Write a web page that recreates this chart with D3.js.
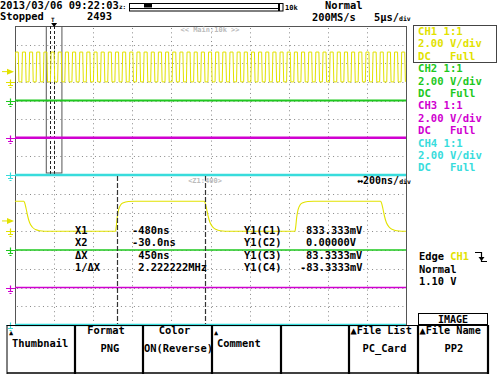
<!DOCTYPE html>
<html lang="en">
<head>
<meta charset="UTF-8">
<title>Scope screen</title>
<style>
  body { margin: 0; background: #fff; }
  svg { display: block; }
  text { font-family: "DejaVu Sans Mono", "Liberation Mono", monospace; font-weight: bold; }
</style>
</head>
<body>
<div id="chart"></div>
<script src="https://cdn.jsdelivr.net/npm/d3@7"></script>
<script>
// ---- values ----
var headerDate = "2013/03/06 09:22:03";
var acqMode = "Normal";
var acqState = "Stopped";
var acqCount = "2493";
var sampleRate = "200MS/s";
var timeDiv = "5\u03bcs/";
var zoomDiv = "200ns/";

var channels = ["CH1", "CH2", "CH3", "CH4"];
var channelColors = ["#e2e200", "#1ec81e", "#d000d0", "#38dcdc"];
var channelProbe = ["1:1", "1:1", "1:1", "1:1"];
var channelVdiv = ["2.00 V/div", "2.00 V/div", "2.00 V/div", "2.00 V/div"];
var channelCoupling = ["DC   Full", "DC   Full", "DC   Full", "DC   Full"];
var voltsPerDiv = 2;
var groundDiv = [1, 0, -2, -4];   // ground position, divisions from centre

// main window (µs): CH1 edges
var mainRange = [-5, 45];
var ch1RiseUs = [-5.04, -4.13, -3.21, -2.30, -1.38, -0.47, 0.45, 1.37, 2.28, 3.20,
  4.11, 5.03, 5.94, 6.86, 7.77, 8.69, 9.60, 10.52, 11.43, 12.35, 13.26, 14.18,
  15.09, 16.01, 16.92, 17.84, 18.75, 19.67, 20.58, 21.50, 22.41, 23.33, 24.24,
  25.16, 26.07, 26.99, 27.90, 28.82, 29.73, 30.65, 31.56, 32.48, 33.39, 34.31,
  35.22, 36.14, 37.05, 37.97, 38.88, 39.80, 40.71, 41.63, 42.54, 43.46, 44.37];
var ch1FallUs = [-4.58, -3.66, -2.75, -1.83, -0.92, 0.00, 0.92, 1.83, 2.75, 3.66,
  4.58, 5.49, 6.41, 7.32, 8.24, 9.15, 10.07, 10.98, 11.90, 12.81, 13.73, 14.64,
  15.56, 16.47, 17.39, 18.30, 19.22, 20.13, 21.05, 21.96, 22.88, 23.79, 24.71,
  25.62, 26.54, 27.45, 28.37, 29.28, 30.20, 31.11, 32.03, 32.94, 33.86, 34.77,
  35.69, 36.60, 37.52, 38.43, 39.35, 40.26, 41.18, 42.09, 43.01, 43.92, 44.84];
var ch1HighV = 3.2;
var ch1LowV = 0;
var flatTraceUs = [-5, 45];

// zoom window (ns): CH1 samples
var zoomRange = [-1000, 1000];
var ch1ZoomT = [-1000, -955, -950, -943, -935, -925, -912, -895, -875, -850,
  -486, -482, -477, -470, -460, -445, -420, -390,
  -32, -27, -20, -12, -2, 12, 30, 50, 75,
  432, 436, 441, 448, 458, 473, 498, 528,
  870, 875, 882, 890, 900, 914, 932, 952, 977, 1000];
var ch1ZoomV = [3.2, 3.2, 3.0, 2.4, 1.6, 0.9, 0.45, 0.18, 0.05, 0,
  0, 0.5, 1.5, 2.3, 2.8, 3.05, 3.17, 3.2,
  3.2, 3.0, 2.4, 1.6, 0.9, 0.45, 0.18, 0.05, 0,
  0, 0.5, 1.5, 2.3, 2.8, 3.05, 3.17, 3.2,
  3.2, 3.0, 2.4, 1.6, 0.9, 0.45, 0.18, 0.05, 0, 0];
var flatTraceNs = [-1000, 1000];

var cursorsNs = [-480, -30];
var trigLevelV = 1.10;
var measureLabels = ["X1", "X2", "\u0394X", "1/\u0394X"];
var measureValues = ["-480ns", "-30.0ns", " 450ns", " 2.222222MHz"];
var yLabels = ["Y1(C1)", "Y1(C2)", "Y1(C3)", "Y1(C4)"];
var yValues = ["833.333mV", "0.00000V", "83.3333mV", "-83.3333mV"];
var trigInfo = ["Normal", "1.10 V"];

var menuTop = ["\u25b2", "Format", "Color", "\u25b2", "", "\u25b2File List", "\u25b2File Name"];
var menuMain = ["Thumbnail", "PNG", "ON(Reverse)", "Comment", "", "PC_Card", "PP2"];

// ---- layout ----
var W = 500, H = 375;
var plotL = 15, plotR = 406;
var winTop = {y0: 26, y1: 175};
var winBot = {y0: 175, y1: 325};

var svg = d3.select("#chart").append("svg")
    .attr("width", W).attr("height", H)
    .style("background", "#fff");

var xMain = d3.scaleLinear().domain(mainRange).range([plotL, plotR]);
var xZoom = d3.scaleLinear().domain(zoomRange).range([plotL, plotR]);
var yTop = d3.scaleLinear().domain([-4, 4]).range([winTop.y1, winTop.y0]);
var yBot = d3.scaleLinear().domain([-4, 4]).range([winBot.y1, winBot.y0]);

function vToDiv(v, ch) { return v / voltsPerDiv + groundDiv[ch]; }

svg.append("clipPath").attr("id", "clipTop").append("rect")
    .attr("x", plotL).attr("y", winTop.y0).attr("width", plotR - plotL).attr("height", winTop.y1 - winTop.y0);
svg.append("clipPath").attr("id", "clipBot").append("rect")
    .attr("x", plotL).attr("y", winBot.y0).attr("width", plotR - plotL).attr("height", winBot.y1 - winBot.y0);

// grid
function drawGrid(win, xs, yS) {
    var g = svg.append("g");
    var step = (xs.domain()[1] - xs.domain()[0]) / 10;
    d3.range(1, 10).forEach(function(i) {
        var x = Math.round(xs(xs.domain()[0] + i * step)) + 0.5;
        g.append("line").attr("x1", x).attr("x2", x).attr("y1", win.y0 + 2).attr("y2", win.y1)
            .attr("stroke", "#888").attr("stroke-dasharray", "1,3.33");
    });
    d3.range(-3, 4).forEach(function(d) {
        var y = Math.round(yS(d)) + 0.5;
        g.append("line").attr("x1", plotL + 2).attr("x2", plotR).attr("y1", y).attr("y2", y)
            .attr("stroke", "#888").attr("stroke-dasharray", "1,3.33");
    });
}
drawGrid(winTop, xMain, yTop);
drawGrid(winBot, xZoom, yBot);

// frame
svg.append("rect").attr("x", plotL + 0.5).attr("y", winTop.y0 + 0.5)
    .attr("width", plotR - plotL).attr("height", winBot.y1 - winTop.y0)
    .attr("fill", "none").attr("stroke", "#555");

// zoom box + cursors in main window
svg.append("rect")
    .attr("x", xMain(zoomRange[0] / 1000)).attr("y", winTop.y0 + 0.5)
    .attr("width", xMain(zoomRange[1] / 1000) - xMain(zoomRange[0] / 1000))
    .attr("height", winTop.y1 - winTop.y0 - 2.5)
    .attr("fill", "none").attr("stroke", "#555");
cursorsNs.forEach(function(c) {
    var x = Math.round(xMain(c / 1000)) + 0.5;
    svg.append("line").attr("x1", x).attr("x2", x).attr("y1", winTop.y0).attr("y2", winTop.y1)
        .attr("stroke", "#222").attr("stroke-dasharray", "3,2");
});

// traces
var lineTop = d3.line().x(function(d) { return xMain(d[0]); }).y(function(d) { return yTop(d[1]); });
var lineBot = d3.line().x(function(d) { return xZoom(d[0]); }).y(function(d) { return yBot(d[1]); })
    .curve(d3.curveMonotoneX);
var lineBotFlat = d3.line().x(function(d) { return xZoom(d[0]); }).y(function(d) { return yBot(d[1]); });

var gTop = svg.append("g").attr("clip-path", "url(#clipTop)");
var gBot = svg.append("g").attr("clip-path", "url(#clipBot)");

// CH1 main
var ch1Pts = [];
ch1RiseUs.forEach(function(r, i) {
    var f = ch1FallUs[i];
    ch1Pts.push([r, vToDiv(ch1LowV, 0)]);
    ch1Pts.push([r + 0.08, vToDiv(ch1HighV, 0)]);
    ch1Pts.push([f, vToDiv(ch1HighV, 0)]);
    ch1Pts.push([f + 0.08, vToDiv(ch1LowV, 0)]);
});
gTop.append("path").attr("d", lineTop(ch1Pts))
    .attr("fill", "none").attr("stroke", channelColors[0]).attr("stroke-width", 1);

var topWidths = [1, 2, 2.6, 2.4];
var botWidths = [1.1, 1.4, 1.5, 2.4];
[1, 2, 3].forEach(function(ch) {
    var pts = flatTraceUs.map(function(t) { return [t, vToDiv(0, ch)]; });
    (ch === 3 ? svg : gTop).append("path").attr("d", lineTop(pts))
        .attr("fill", "none").attr("stroke", channelColors[ch]).attr("stroke-width", topWidths[ch]);
});

// CH1 zoom
var zoomPts = ch1ZoomT.map(function(t, i) { return [t, vToDiv(ch1ZoomV[i], 0)]; });
gBot.append("path").attr("d", lineBot(zoomPts))
    .attr("fill", "none").attr("stroke", channelColors[0]).attr("stroke-width", botWidths[0]);
[1, 2, 3].forEach(function(ch) {
    var pts = flatTraceNs.map(function(t) { return [t, vToDiv(0, ch)]; });
    (ch === 3 ? svg : gBot).append("path").attr("d", lineBotFlat(pts))
        .attr("fill", "none").attr("stroke", channelColors[ch]).attr("stroke-width", botWidths[ch]);
});

// cursors in zoom window
cursorsNs.forEach(function(c) {
    var x = Math.round(xZoom(c)) + 0.5;
    svg.append("line").attr("x1", x).attr("x2", x).attr("y1", winBot.y0 + 1).attr("y2", winBot.y1 - 1)
        .attr("stroke", "#333").attr("stroke-width", 1.2).attr("stroke-dasharray", "5,2");
});

// ground & trigger markers
function groundMark(y, col) {
    svg.append("path")
        .attr("d", "M6," + y + "H15M10.5," + (y - 3) + "V" + (y + 3) + "M8," + (y + 3) + "H13M9.5," + (y + 5) + "H11.5")
        .attr("fill", "none").attr("stroke", col).attr("stroke-width", 1.2);
}
[yTop, yBot].forEach(function(yS) {
    channels.forEach(function(c, ch) { groundMark(Math.round(yS(groundDiv[ch])) + 0.5, channelColors[ch]); });
    var ty = yS(vToDiv(trigLevelV, 0));
    svg.append("path").attr("d", "M7," + (ty - 3) + "L14," + ty + "L7," + (ty + 3) + "Z")
        .attr("fill", channelColors[0]);
    svg.append("line").attr("x1", 2).attr("x2", 8).attr("y1", ty).attr("y2", ty)
        .attr("stroke", channelColors[0]);
});

// header
function txt(x, y, s, opts) {
    opts = opts || {};
    return svg.append("text").attr("x", x).attr("y", y).text(s)
        .attr("font-size", opts.size || 10.4)
        .attr("fill", opts.fill || "#000")
        .attr("text-anchor", opts.anchor || "start")
        .attr("xml:space", "preserve");
}
txt(0, 9, headerDate);
txt(119, 9, "z:", {size: 6});
svg.append("rect").attr("x", 129.5).attr("y", 3.5).attr("width", 149).attr("height", 7.5)
    .attr("fill", "none").attr("stroke", "#000");
svg.append("line").attr("x1", 130).attr("x2", 278).attr("y1", 8.5).attr("y2", 8.5).attr("stroke", "#000");
svg.append("rect").attr("x", xMain(-1) * 0 + 144).attr("y", 4).attr("width", 8).attr("height", 3.5).attr("fill", "#000");
svg.append("rect").attr("x", 279.5).attr("y", 3.5).attr("width", 3.5).attr("height", 7.5)
    .attr("fill", "none").attr("stroke", "#000");
txt(285, 10, "10k", {size: 7});
txt(325, 9, acqMode);
txt(0, 20, acqState);
txt(87, 20, acqCount);
txt(312, 21, sampleRate);
var td = txt(374, 21, timeDiv);
td.append("tspan").attr("font-size", 6.5).text("div");

// trigger position marker
var tx = xMain(0);
txt(tx - 3, 22, "T", {size: 6});
svg.append("path").attr("d", "M" + (tx - 3) + ",23L" + (tx + 3) + ",23L" + tx + ",27Z").attr("fill", "#000");

txt(210, 32, "<< Main:10k >>", {size: 7, fill: "#bbb", anchor: "middle"});
txt(205, 183, "<Z1:400>", {size: 7, fill: "#bbb", anchor: "middle"});
var zd = txt(357, 184, "\u2194" + zoomDiv, {size: 10});
zd.append("tspan").attr("font-size", 6.5).text("div");

// channel panel
channels.forEach(function(c, ch) {
    var y0 = 35 + ch * 37.2;
    txt(418, y0, c + " " + channelProbe[ch], {fill: channelColors[ch], size: 10.6});
    txt(418, y0 + 12.4, channelVdiv[ch], {fill: channelColors[ch], size: 10.6});
    txt(418, y0 + 24.8, channelCoupling[ch], {fill: channelColors[ch], size: 10.6});
});
svg.append("rect").attr("x", 413.5).attr("y", 25.5).attr("width", 83).attr("height", 37)
    .attr("fill", "none").attr("stroke", "#444");

// measurements
measureLabels.forEach(function(l, i) {
    var y = 234 + i * 12.3;
    txt(75, y, l);
    txt(132, y, measureValues[i]);
    txt(244, y, yLabels[i]);
    txt(yValues[i].charAt(0) === "-" ? 300 : 306, y, yValues[i]);
});

// trigger info
var te = txt(419, 260, "Edge ");
te.append("tspan").attr("fill", channelColors[0]).text("CH1");
svg.append("path").attr("d", "M475,252.5H481.5V261.5H487").attr("fill", "none").attr("stroke", "#000").attr("stroke-width", 1.2);
svg.append("path").attr("d", "M478.5,257L484.5,257L481.5,261Z").attr("fill", "#000");
txt(419, 272.5, trigInfo[0]);
txt(419, 285, trigInfo[1]);

// IMAGE tab
svg.append("rect").attr("x", 418.5).attr("y", 313.5).attr("width", 69).attr("height", 11)
    .attr("fill", "#fff").attr("stroke", "#000");
txt(453, 322.5, "IMAGE", {anchor: "middle", size: 10});

// menu
var menuEdges = [7, 75, 143, 212, 281, 349, 418, 488];
svg.append("line").attr("x1", 7).attr("x2", 488).attr("y1", 325.5).attr("y2", 325.5).attr("stroke", "#000");
svg.append("line").attr("x1", 7).attr("x2", 488).attr("y1", 373).attr("y2", 373).attr("stroke", "#000").attr("stroke-width", 1.5);
menuEdges.forEach(function(x, i) {
    svg.append("line").attr("x1", x).attr("x2", x).attr("y1", 325).attr("y2", 374)
        .attr("stroke", "#000").attr("stroke-width", i === 0 ? 1 : 2.2);
});
svg.append("clipPath").attr("id", "clipMenu").append("rect")
    .attr("x", 8).attr("y", 326).attr("width", 479).attr("height", 46);
menuTop.forEach(function(t, i) {
    var l = menuEdges[i], r = menuEdges[i + 1], c = (l + r) / 2;
    if (t === "\u25b2" ) {
        txt(l + 2, 335, t, {size: 7});
        txt(l + 5, 347, menuMain[i]);
    } else if (t !== "") {
        if (t.charAt(0) === "\u25b2") {
            txt(l + 1.5, 334, t, {size: 10.2});
        } else {
            txt(c - 3, 334, t, {anchor: "middle"});
        }
        txt(c + 1, 352, menuMain[i], {anchor: "middle"}).attr("clip-path", "url(#clipMenu)");
    }
});
</script>
</body>
</html>
